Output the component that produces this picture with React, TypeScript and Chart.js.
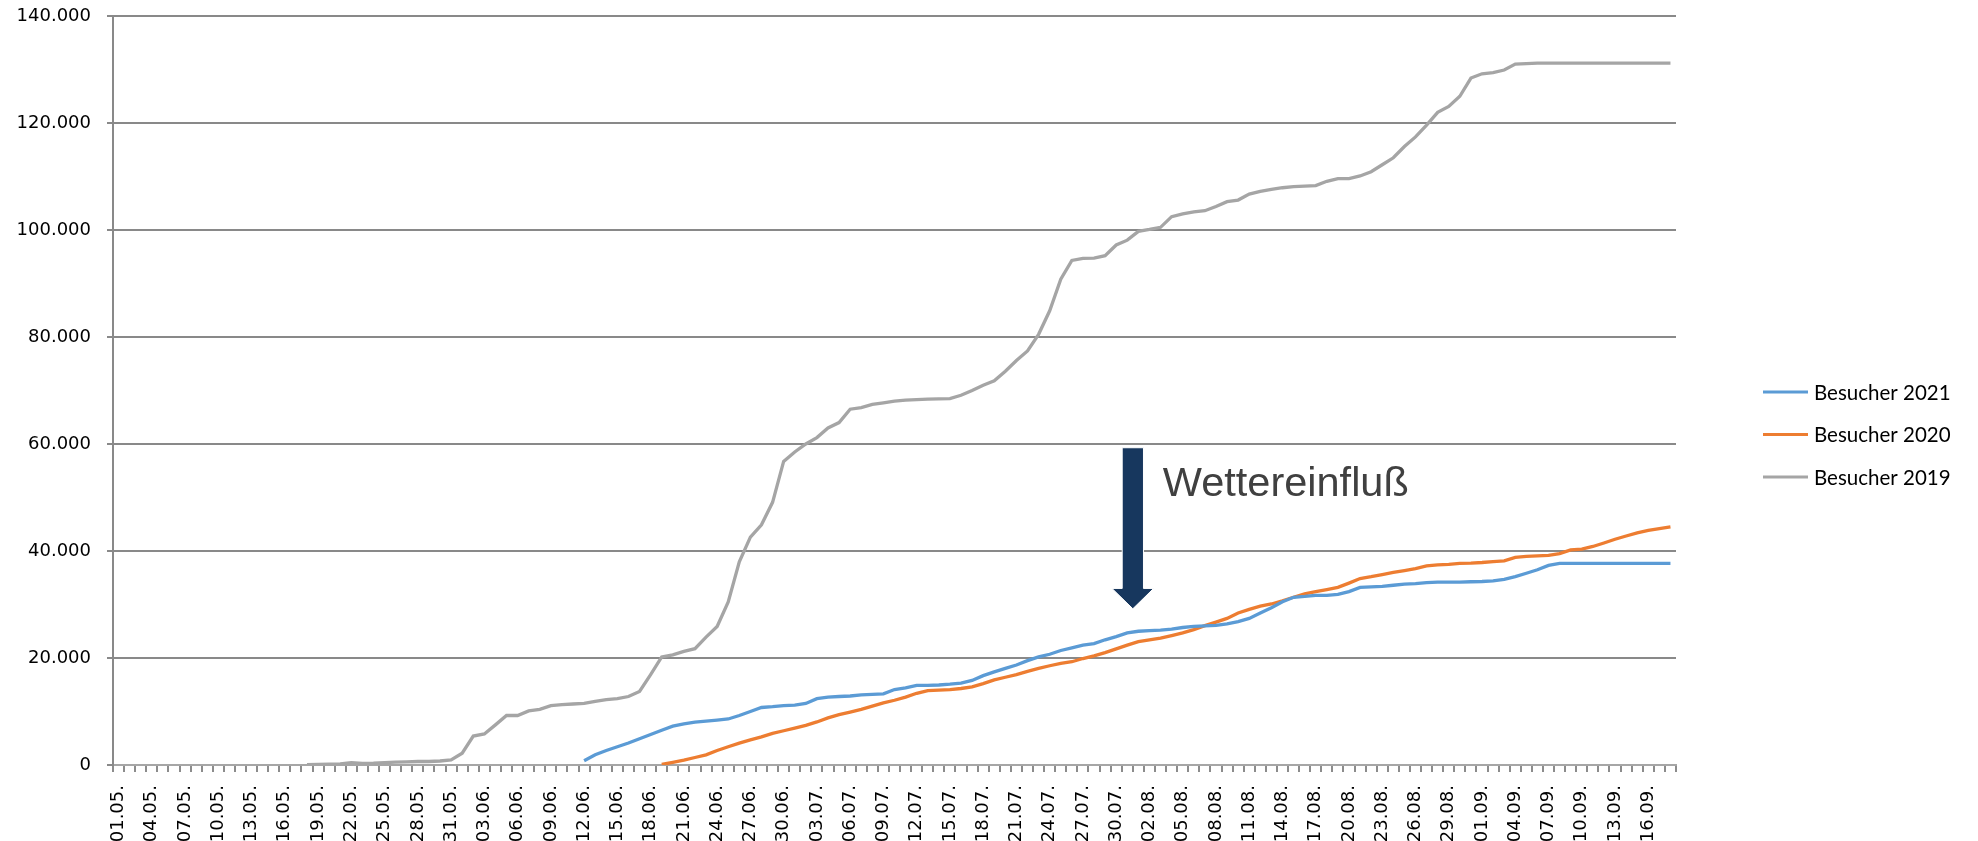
import React, { useEffect, useRef } from "react";
import { Chart, registerables } from "chart.js";

Chart.register(...registerables);

// Calendar categories: 01.05. – 18.09.
const MONTHS: [string, number][] = [["05", 31], ["06", 30], ["07", 31], ["08", 31], ["09", 18]];
const dateLabels: string[] = [];
for (const [m, n] of MONTHS) {
  for (let d = 1; d <= n; d++) dateLabels.push(`${String(d).padStart(2, "0")}.${m}.`);
}

// Besucher 2019 – first value at 18.05.
const START_2019 = 17;
const visitors2019 = [
  50, 100, 150, 200, 450, 300, 350, 450, 550, 600, 650, 650, 750,
  950, 2200, 5400, 5800, 7500, 9250, 9250, 10100, 10400, 11100, 11300, 11400,
  11500, 11900, 12200, 12400, 12800, 13750, 16900, 20200, 20600, 21250, 21750,
  23900, 25900, 30500, 38000, 42600, 44900, 49100, 56750, 58500, 60000, 61200,
  63000, 64000, 66500, 66800, 67400, 67700, 68000, 68200, 68300, 68400, 68450,
  68500, 69100, 70000, 71000, 71800, 73600, 75600, 77400, 80500, 84900, 90800,
  94300, 94700, 94750, 95200, 97200, 98100, 99750, 100100, 100500, 102500,
  103000, 103400, 103600, 104400, 105300, 105600, 106700, 107200, 107600,
  107900, 108100, 108200, 108300, 109100, 109600, 109600, 110100, 110900,
  112200, 113500, 115600, 117400, 119600, 122000, 123100, 125000, 128400,
  129200, 129400, 129900, 131000, 131100, 131200, 131200, 131200, 131200,
  131200, 131200, 131200, 131200, 131200, 131200, 131200, 131200, 131200,
];

// Besucher 2021 – first value at 12.06.
const START_2021 = 42;
const visitors2021 = [
  800, 1900, 2700, 3400, 4100, 4900, 5700, 6500, 7250, 7700, 8000, 8200, 8400,
  8600, 9250, 10000, 10750, 10900, 11100, 11200, 11500, 12400, 12700, 12800,
  12900, 13100, 13200, 13300, 14100, 14400, 14900, 14900, 14950, 15100, 15300,
  15800, 16700, 17400, 18050, 18700, 19500, 20200, 20700, 21400, 21900, 22400,
  22700, 23400, 24000, 24700, 25000, 25100, 25200, 25400, 25700, 25900, 26000,
  26100, 26400, 26800, 27400, 28400, 29400, 30500, 31350, 31500, 31700, 31700,
  31900, 32400, 33200, 33300, 33400, 33600, 33800, 33900, 34100, 34200, 34200,
  34200, 34250, 34300, 34400, 34700, 35200, 35850, 36500, 37300, 37700, 37700,
  37700, 37700, 37700, 37700, 37700, 37700, 37700, 37700, 37700,
];

// Besucher 2020 – first value at 19.06.
const START_2020 = 49;
const visitors2020 = [
  100, 500, 900, 1400, 1900, 2700, 3400, 4100, 4700, 5250, 5900, 6400, 6900,
  7400, 8050, 8800, 9400, 9900, 10400, 11000, 11600, 12100, 12700, 13400, 13900,
  14000, 14100, 14300, 14600, 15200, 15900, 16400, 16900, 17500, 18050, 18550,
  19000, 19300, 19900, 20400, 21000, 21700, 22400, 23050, 23400, 23700, 24200,
  24700, 25300, 26050, 26700, 27400, 28400, 29100, 29700, 30100, 30700, 31350,
  32000, 32400, 32800, 33200, 34000, 34850, 35200, 35600, 36000, 36350, 36700,
  37200, 37400, 37500, 37700, 37750, 37850, 38000, 38150, 38800, 39000, 39100,
  39200, 39500, 40200, 40350, 40850, 41500, 42200, 42800, 43400, 43850, 44200,
  44500,
];

const Y_TICKS = { min: 0, max: 140000, step: 20000 };

const SERIES = [
  { label: "Besucher 2021", color: "#5B9BD5", start: START_2021, values: visitors2021 },
  { label: "Besucher 2020", color: "#ED7D31", start: START_2020, values: visitors2020 },
  { label: "Besucher 2019", color: "#A5A5A5", start: START_2019, values: visitors2019 },
];

// Annotation (data space)
const ANNOTATION_TEXT = "Wettereinfluß";
const ARROW_INDEX = 91.5;
const ARROW_TOP = 59300;
const ARROW_HEAD_BASE = 33000;
const ARROW_TIP = 29200;
const TEXT_INDEX = 94.2;
const TEXT_BASELINE = 50200;

const pad = (start: number, vals: number[]) => [...Array(start).fill(null), ...vals];

const fmtThousands = (v: number) => {
  if (v < 1000) return String(v);
  return `${Math.floor(v / 1000)}.${String(v % 1000).padStart(3, "0")}`;
};

const legendPlugin = {
  id: "customLegend",
  afterDraw(chart: any) {
    const { ctx, chartArea } = chart;
    const lx = chartArea.right + 87;
    const cy = (chartArea.top + chartArea.bottom) / 2 + 44;
    const gap = 42.4;
    SERIES.forEach((s, i) => {
      const y = cy + (i - 1) * gap;
      ctx.save();
      ctx.strokeStyle = s.color;
      ctx.lineWidth = 3;
      ctx.beginPath();
      ctx.moveTo(lx, y);
      ctx.lineTo(lx + 45, y);
      ctx.stroke();
      ctx.fillStyle = "#000";
      ctx.font = "20.5px Lato";
      ctx.textBaseline = "middle";
      ctx.textAlign = "left";
      ctx.fillText(s.label, lx + 51, y + 1);
      ctx.restore();
    });
  },
};

const annotationPlugin = {
  id: "wetterAnnotation",
  afterDatasetsDraw(chart: any) {
    const { ctx } = chart;
    const x = chart.scales.x;
    const y = chart.scales.y;
    const cat = x.getPixelForValue(1) - x.getPixelForValue(0);
    const cx = x.getPixelForValue(ARROW_INDEX);
    const top = y.getPixelForValue(ARROW_TOP);
    const base = y.getPixelForValue(ARROW_HEAD_BASE);
    const tip = y.getPixelForValue(ARROW_TIP);
    const sw = cat * 0.96;
    const hw = cat * 1.875;
    ctx.save();
    ctx.beginPath();
    ctx.moveTo(cx - sw, top);
    ctx.lineTo(cx + sw, top);
    ctx.lineTo(cx + sw, base);
    ctx.lineTo(cx + hw, base);
    ctx.lineTo(cx, tip);
    ctx.lineTo(cx - hw, base);
    ctx.lineTo(cx - sw, base);
    ctx.closePath();
    ctx.fillStyle = "#17375E";
    ctx.fill();
    ctx.strokeStyle = "#ffffff";
    ctx.lineWidth = 1;
    ctx.stroke();

    ctx.fillStyle = "#404040";
    ctx.font = "41.5px 'Liberation Sans'";
    ctx.textBaseline = "alphabetic";
    ctx.textAlign = "left";
    ctx.fillText(ANNOTATION_TEXT, x.getPixelForValue(TEXT_INDEX), y.getPixelForValue(TEXT_BASELINE));
    ctx.restore();
  },
};

export default function App() {
  const ref = useRef<HTMLCanvasElement | null>(null);

  useEffect(() => {
    if (!ref.current) return;
    const chart = new Chart(ref.current, {
      type: "line",
      data: {
        labels: dateLabels,
        datasets: SERIES.map((s) => ({
          label: s.label,
          data: pad(s.start, s.values),
          borderColor: s.color,
          backgroundColor: s.color,
          borderWidth: 3.3,
          pointRadius: 0,
          tension: 0,
          fill: false,
        })),
      },
      options: {
        responsive: false,
        animation: false,
        layout: { padding: { top: 16, right: 302, left: 0, bottom: 0 } },
        plugins: { legend: { display: false }, tooltip: { enabled: false } },
        scales: {
          x: {
            offset: true,
            grid: {
              offset: true,
              drawOnChartArea: false,
              drawTicks: true,
              tickLength: 7,
              color: "#8c8c8c",
              lineWidth: 2,
            },
            border: { color: "#a6a6a6", width: 2 },
            ticks: {
              autoSkip: false,
              maxRotation: 90,
              minRotation: 90,
              padding: 13,
              color: "#000",
              font: { family: "'DejaVu Sans'", size: 18 },
              callback: (_v: any, i: number) => (i % 3 === 0 ? dateLabels[i] : ""),
            },
            afterFit: (s: any) => {
              s.height = 76;
            },
          },
          y: {
            min: Y_TICKS.min,
            max: Y_TICKS.max,
            ticks: {
              stepSize: Y_TICKS.step,
              padding: 16,
              color: "#000",
              font: { family: "'DejaVu Sans'", size: 18 },
              callback: (v: any) => fmtThousands(Number(v)),
            },
            grid: { color: "#898989", lineWidth: 2, tickLength: 6 },
            border: { color: "#898989", width: 2 },
            afterFit: (s: any) => {
              s.width = 113;
              s.paddingTop = 10;
              s.paddingBottom = 10;
            },
          },
        },
      },
      plugins: [legendPlugin, annotationPlugin],
    });
    return () => chart.destroy();
  }, []);

  return (
    <div style={{ position: "fixed", left: 0, top: 0, width: 1978, height: 841, background: "#fff" }}>
      <canvas ref={ref} width={1978} height={841} style={{ display: "block" }} />
    </div>
  );
}
